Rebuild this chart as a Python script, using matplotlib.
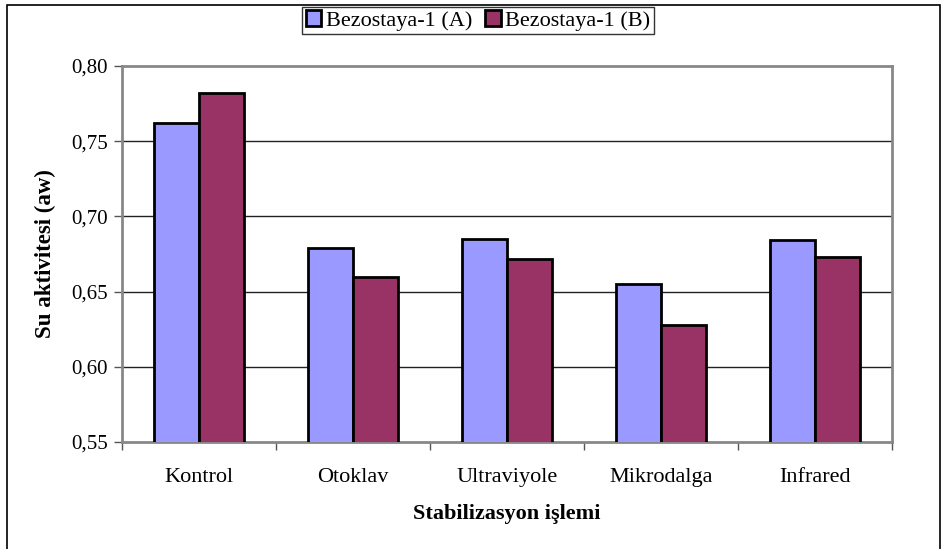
import numpy as np
import matplotlib.pyplot as plt
from matplotlib.patches import Rectangle

plt.rcParams['font.family'] = ['Liberation Serif', 'DejaVu Serif']

categories = ["Kontrol", "Otoklav", "Ultraviyole", "Mikrodalga", "Infrared"]
series_a = [0.762, 0.679, 0.685, 0.655, 0.684]
series_b = [0.782, 0.660, 0.672, 0.628, 0.673]
labels = ["Bezostaya-1 (A)", "Bezostaya-1 (B)"]
yticks = [0.55, 0.60, 0.65, 0.70, 0.75, 0.80]

fig = plt.figure(figsize=(9.43, 5.49), dpi=100)
ax = fig.add_axes([122/943, 1-442/549, 770/943, 376/549])

x = np.arange(len(categories))
w = 0.292
ax.bar(x - w/2, series_a, w, color="#9999FF", edgecolor="black", linewidth=2, label=labels[0], zorder=3)
ax.bar(x + w/2, series_b, w, color="#993366", edgecolor="black", linewidth=2, label=labels[1], zorder=3)

ax.set_ylim(0.55, 0.80)
ax.set_xlim(-0.5, len(categories) - 0.5)
ax.set_yticks(yticks)
ax.set_yticklabels([("%.2f" % v).replace(".", ",") for v in yticks], fontsize=15)
for v in yticks[1:-1]:
    ax.axhline(v, color="#222222", linewidth=1, zorder=1)

# sinir cizgileri major tick, isimler minor tick
ax.set_xticks(np.arange(-0.5, len(categories), 1.0))
ax.set_xticklabels([])
ax.set_xticks(x, minor=True)
ax.set_xticklabels(categories, minor=True, fontsize=16)
ax.tick_params(axis="x", which="major", length=6, width=1, color="#555555", direction="out")
ax.tick_params(axis="x", which="minor", length=0, pad=19)
ax.tick_params(axis="y", length=6, width=1, color="#555555", direction="out", pad=4)

for s in ax.spines.values():
    s.set_color("#888888")
    s.set_linewidth(2)

ax.set_ylabel("Su aktivitesi (aw)", fontsize=16.5, fontweight="bold", labelpad=11)
ax.set_xlabel("Stabilizasyon işlemi", fontsize=16, fontweight="bold", labelpad=12)

leg = fig.legend(loc="upper center", bbox_to_anchor=(478/943, 1-7/549), ncol=2, fontsize=16,
                 frameon=True, fancybox=False, edgecolor="black", handlelength=0.7,
                 handleheight=0.7, handletextpad=0.2, columnspacing=0.6, borderpad=0.15,
                 borderaxespad=0)
leg.get_frame().set_linewidth(1)

fig.patches.append(Rectangle((7/943, -0.01), 933/943, 1.0, transform=fig.transFigure,
                             fill=False, edgecolor="black", linewidth=1.2))

fig.savefig("out.png", dpi=100)
